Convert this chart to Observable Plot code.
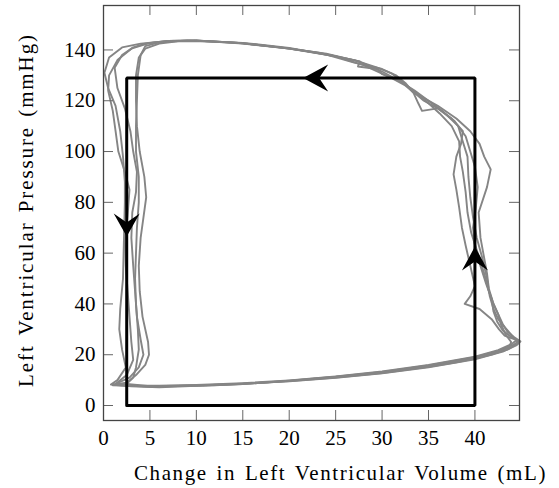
<!DOCTYPE html>
<html>
<head>
<meta charset="utf-8">
<script src="https://cdn.jsdelivr.net/npm/d3@7"></script>
<script src="https://cdn.jsdelivr.net/npm/@observablehq/plot@0.6"></script>
<style>
  html, body { margin: 0; padding: 0; background: #fff; }
  svg, svg text { font-family: "Liberation Serif", "DejaVu Serif", serif !important; }
  svg [aria-label="text"] text { letter-spacing: 1.6px; word-spacing: 2px; }
</style>
</head>
<body>
<script>
// Tick values
const xTicks = [0, 5, 10, 15, 20, 25, 30, 35, 40];
const yTicks = [0, 20, 40, 60, 80, 100, 120, 140];

// Idealised loop (rectangle)
const rectV = [2.5, 40, 40, 2.5, 2.5];
const rectP = [0, 0, 129, 129, 0];

// Arrow tips on the idealised loop
const arrowLeft = [[21.5, 129]];
const arrowDown = [[2.5, 66.5]];
const arrowUp = [[40, 62.6]];

// Measured pressure-volume loops [volume (mL), pressure (mmHg)]
const loop1 = [[0.8,8.3],[3,7.6],[6,7.2],[10,7.8],[15,8.5],[20,9.6],[25,11],[30,12.8],[35,15.2],[38,17],[40,18.5],[42,20.3],[43.5,22],[44.7,24.6],[44,27.5],[43.3,30.5],[42.5,34],[42,38],[41.6,43],[41.3,50],[40.8,58],[40.2,66],[39.8,74],[39.5,82],[39.3,90],[39.2,98],[38.6,105],[38.2,110],[36.5,116],[35,120],[33.5,124],[32,127.5],[30,131.5],[27.5,135.5],[24,138.5],[20,140.5],[15,142.5],[10,143.7],[7,143.5],[4,142.5],[2,141],[0.6,137],[0.1,131],[0.5,125],[1.3,118],[1.8,108],[2.1,98],[2.3,88],[2.3,80],[2.2,65],[2.1,50],[1.8,38],[1.7,30],[2.0,22],[2.4,15],[1.5,10],[0.8,8.3]];
const loop2 = [[1.5,8.5],[4,7.8],[8,7.8],[12,8.0],[16,8.7],[20,9.8],[25,11.3],[30,13.2],[35,15.8],[40,19],[42.5,21.5],[44.2,24],[44.8,25.5],[44.2,27],[43.5,29],[43,32],[42.5,36],[42,40],[41.5,46],[41.3,52],[41,58],[40.6,66],[40.4,76],[41.3,86],[41.7,93],[41,98],[40.5,103],[39.5,108],[38,113],[36,118],[34.5,121],[33.5,123],[32.5,126],[31,129],[28,134],[25,137.5],[20,140.5],[15,142.7],[11,143.5],[8,143.4],[6,142.5],[4.5,140.5],[3.8,137],[3.5,130],[3.5,120],[3.6,110],[3.9,100],[4.4,90],[4.6,82],[4.3,74],[4.0,66],[3.8,55],[3.9,45],[4.2,35],[4.8,25],[4.9,20],[4.5,16],[3.5,12],[2.5,9],[1.5,8.5]];
const loop3 = [[1.2,8.2],[5,7.4],[10,7.9],[15,8.6],[20,9.5],[25,10.9],[30,12.7],[35,15.0],[40,18.2],[43,21.2],[44.5,23.8],[44.9,25.2],[44.3,26],[43.2,27.5],[42.6,30],[41.8,34],[40.5,38],[38.9,40],[39.5,43],[40,47],[39.5,55],[39,63],[38.6,70],[38.3,78],[38,85],[37.7,91],[38,98],[38.5,103],[38.7,108],[37.5,113],[36,117],[34.3,116],[33.9,119],[33.4,123],[32.5,126.5],[31.5,128.5],[30,130.5],[29.5,132.5],[27.4,133.5],[27.6,135.5],[24.5,137.8],[20,140.8],[15,142.8],[10,143.6],[7,143.5],[5,142.8],[3,140.5],[1.5,136],[0.6,130],[0.5,124],[1.0,116],[1.3,108],[1.6,100],[2.3,92],[2.8,85],[2.6,75],[2.3,65],[2.4,55],[2.6,45],[2.8,35],[3.0,25],[3.2,18],[2.5,12],[1.2,8.2]];
const loop4 = [[1.0,8.0],[5,7.6],[10,8.1],[15,8.8],[20,9.9],[25,11.4],[30,13.4],[35,16.0],[40,19.2],[42.5,21.8],[44,24.3],[44.5,25.8],[43.8,27.3],[43.0,29.5],[42.4,33],[42,37],[41.8,42],[41.2,48],[40.5,56],[40,63],[39.8,70],[40.1,78],[40.3,86],[40,94],[39.5,100],[39.0,106],[37.8,112],[36,117],[34.5,120],[33.2,124],[32.5,127],[31.5,130],[30,132.5],[27,135],[24,138.2],[20,140.6],[15,142.6],[10,143.7],[7,143.5],[4.5,142.5],[3.2,141],[2,138],[1.2,133],[1.5,125],[2.3,117],[2.9,108],[3.2,100],[3.6,92],[3.5,84],[3.1,76],[3.0,66],[3.2,55],[3.4,45],[3.6,35],[4.0,26],[4.3,20],[3.8,15],[2.8,11],[1.0,8.0]];
const loop5 = [[2.5,8.5],[5,7.6],[10,7.9],[15,8.5],[20,9.7],[25,11.2],[30,13],[35,15.5],[40,18.7],[42.7,21.2],[43.7,23],[43.9,25],[43.3,28],[42.8,32],[42.5,36],[42,40],[41.5,45],[41,52],[40.3,60],[39.6,68],[39.2,76],[39,84],[38.7,92],[38.4,98],[38.3,104],[37.5,110],[36.2,115],[35,119],[34,122],[33,125],[32,128],[31,130.8],[29.5,133],[27,136],[23,139],[19,141],[14,143],[9,143.7],[6,143],[4.5,141.5],[4,138],[3.7,130],[3.6,120],[3.5,110],[3.5,100],[3.8,90],[3.8,80],[3.6,70],[3.5,60],[3.4,50],[3.5,40],[3.7,30],[3.8,22],[3.5,15],[3.2,11],[2.5,8.5]];

const xLabel = "Change in Left Ventricular Volume (mL)";
const yLabel = "Left Ventricular Pressure (mmHg)";

// Build tables for the library
const loops = [loop1, loop2, loop3, loop4, loop5];
const loopData = loops.flatMap((pts, i) => pts.map(([v, p]) => ({loop: i, v, p})));
const rectData = rectV.map((v, i) => ({v, p: rectP[i]}));

// Stealth-like arrowhead symbols (tip at the anchor point)
const headLeft = {draw(c) { c.moveTo(0, 0); c.lineTo(25, -13.5); c.lineTo(16, 0); c.lineTo(25, 13.5); c.closePath(); }};
const headDown = {draw(c) { c.moveTo(0, 0); c.lineTo(-13, -23); c.lineTo(0, -14); c.lineTo(13, -23); c.closePath(); }};
const headUp = {draw(c) { c.moveTo(0, 0); c.lineTo(-13, 24); c.lineTo(0, 15); c.lineTo(13, 24); c.closePath(); }};

const font = "Liberation Serif";

const chart = Plot.plot({
  width: 559,
  height: 488,
  marginLeft: 103,
  marginRight: 40,
  marginTop: 5,
  marginBottom: 68,
  style: {fontFamily: font, fontSize: "21px", background: "#fff", color: "#000"},
  x: {domain: [0, 44.8]},
  y: {domain: [-5.9, 157.5]},
  marks: [
    Plot.line(loopData, {x: "v", y: "p", z: "loop", stroke: "#858585", strokeWidth: 1.9}),
    Plot.line(rectData, {x: "v", y: "p", stroke: "#000", strokeWidth: 3, strokeLinejoin: "miter"}),
    Plot.dot(arrowLeft, {x: d => d[0], y: d => d[1], symbol: headLeft, fill: "#000", stroke: "none"}),
    Plot.dot(arrowDown, {x: d => d[0], y: d => d[1], symbol: headDown, fill: "#000", stroke: "none"}),
    Plot.dot(arrowUp, {x: d => d[0], y: d => d[1], symbol: headUp, fill: "#000", stroke: "none"}),
    // inward ticks on all four sides
    Plot.ruleX(xTicks, {x: d => d, insetTop: 405, stroke: "#666", strokeWidth: 1}),
    Plot.ruleX(xTicks, {x: d => d, insetBottom: 405, stroke: "#666", strokeWidth: 1}),
    Plot.ruleY(yTicks, {y: d => d, insetRight: 406, stroke: "#666", strokeWidth: 1}),
    Plot.ruleY(yTicks, {y: d => d, insetLeft: 406, stroke: "#666", strokeWidth: 1}),
    Plot.axisX(xTicks, {tickSize: 0, tickPadding: 10, label: null, fontSize: 21, fontFamily: font}),
    Plot.axisY(yTicks, {tickSize: 0, tickPadding: 8, label: null, fontSize: 21, fontFamily: font}),
    Plot.frame({stroke: "#444", strokeWidth: 1.3}),
    Plot.text([xLabel], {text: d => d, frameAnchor: "bottom", textAnchor: "middle", lineAnchor: "middle", dx: 29, dy: 53, fontSize: 21, fontFamily: font, fill: "#000"}),
    Plot.text([yLabel], {text: d => d, frameAnchor: "left", textAnchor: "middle", lineAnchor: "middle", rotate: -90, dx: -77, dy: -3, fontSize: 21, fontFamily: font, fill: "#000"})
  ]
});
d3.select(chart).selectAll("text")
  .filter(function() { return this.textContent === yLabel; })
  .style("letter-spacing", "1.9px");
document.body.appendChild(chart);
</script>
</body>
</html>
